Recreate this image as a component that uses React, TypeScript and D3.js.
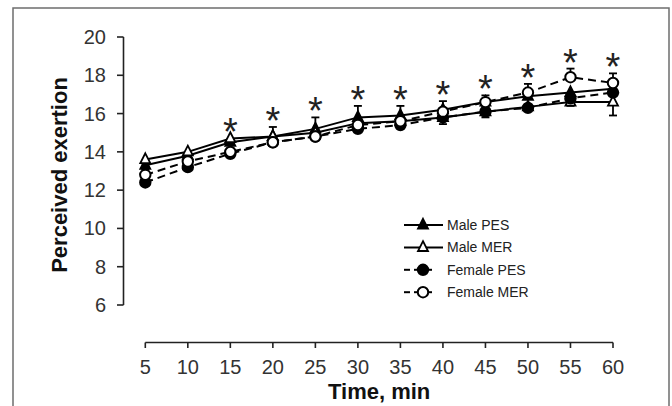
import React from "react";
import * as d3 from "d3";

const times = [5, 10, 15, 20, 25, 30, 35, 40, 45, 50, 55, 60];
const malePES = [13.3, 13.8, 14.5, 14.8, 15.2, 15.8, 15.9, 16.2, 16.6, 16.9, 17.1, 17.3];
const maleMER = [13.6, 14.0, 14.7, 14.8, 15.0, 15.5, 15.6, 15.8, 16.1, 16.35, 16.6, 16.6];
const femalePES = [12.4, 13.2, 13.9, 14.5, 14.8, 15.2, 15.4, 15.8, 16.1, 16.3, 16.8, 17.1];
const femaleMER = [12.8, 13.5, 14.0, 14.5, 14.8, 15.4, 15.6, 16.1, 16.6, 17.1, 17.9, 17.6];
const femaleMERErrUp = [0.3, 0.3, 0.4, 0.8, 1.0, 1.0, 0.8, 0.55, 0.35, 0.45, 0.45, 0.5];
const maleMERErrDown = [0.2, 0.2, 0.2, 0.2, 0.2, 0.3, 0.35, 0.35, 0.3, 0.2, 0.2, 0.7];
const significant = [false, false, true, true, true, true, true, true, true, true, true, true];
const yTicks = [6, 8, 10, 12, 14, 16, 18, 20];
const seriesNames = ["Male PES", "Male MER", "Female PES", "Female MER"];

const FONT = "'Liberation Sans', Arial, Helvetica, sans-serif";

type Series = {
  name: string;
  values: number[];
  marker: "tri" | "circle";
  filled: boolean;
  dashed: boolean;
};

const series: Series[] = [
  { name: seriesNames[0], values: malePES, marker: "tri", filled: true, dashed: false },
  { name: seriesNames[1], values: maleMER, marker: "tri", filled: false, dashed: false },
  { name: seriesNames[2], values: femalePES, marker: "circle", filled: true, dashed: true },
  { name: seriesNames[3], values: femaleMER, marker: "circle", filled: false, dashed: true },
];

const triPath = "M0,-6.2L5,3.6L-5,3.6Z";

function Marker({ s, cx, cy }: { s: Series; cx: number; cy: number }) {
  const fill = s.filled ? "#000" : "#fff";
  if (s.marker === "tri") {
    return <path d={triPath} transform={`translate(${cx},${cy})`} fill={fill} stroke="#000" strokeWidth={1.8} strokeLinejoin="miter" />;
  }
  return <circle cx={cx} cy={cy} r={5.2} fill={fill} stroke="#000" strokeWidth={2} />;
}

export default function App() {
  const W = 672, H = 406;
  const x = d3.scaleLinear().domain([5, 60]).range([145.3, 613]);
  const y = d3.scaleLinear().domain([6, 20]).range([305, 37]);
  const line = d3.line<number>().x((_, i) => x(times[i])).y((v) => y(v));

  const capW = 4;

  return (
    <svg width={W} height={H} style={{ position: "absolute", left: 0, top: 0, background: "#fff" }} fontFamily={FONT}>
      {/* frame */}
      <path d={`M13,${H}V8H669V${H}`} fill="none" stroke="#6e6e6e" strokeWidth={1.5} />

      {/* y axis */}
      <line x1={123.5} x2={123.5} y1={y(20)} y2={y(6)} stroke="#222" strokeWidth={1.6} />
      {yTicks.map((t) => (
        <g key={t}>
          <line x1={117} x2={123.5} y1={y(t)} y2={y(t)} stroke="#222" strokeWidth={1.6} />
          <text x={106} y={y(t) + 7} textAnchor="end" fontSize={20} fill="#333">{t}</text>
        </g>
      ))}
      <text transform={`translate(67,${(y(20) + y(6)) / 2 + 4}) rotate(-90)`} textAnchor="middle" fontSize={22} fontWeight="bold" fill="#111">Perceived exertion</text>

      {/* x axis */}
      <line x1={x(5)} x2={x(60)} y1={342.5} y2={342.5} stroke="#222" strokeWidth={1.6} />
      {times.map((t) => (
        <g key={t}>
          <line x1={x(t)} x2={x(t)} y1={342.5} y2={348} stroke="#222" strokeWidth={1.6} />
          <text x={x(t)} y={374} textAnchor="middle" fontSize={20} fill="#333">{t}</text>
        </g>
      ))}
      <text x={(x(5) + x(60)) / 2} y={399} textAnchor="middle" fontSize={22} fontWeight="bold" fill="#111">Time, min</text>

      {/* error bars */}
      {times.map((t, i) => {
        const cx = x(t);
        const top = y(femaleMER[i] + femaleMERErrUp[i]);
        const bot = y(maleMER[i] - maleMERErrDown[i]);
        return (
          <g key={"e" + t} stroke="#000" strokeWidth={1.8}>
            <line x1={cx} x2={cx} y1={y(femaleMER[i])} y2={top} />
            <line x1={cx - capW} x2={cx + capW} y1={top} y2={top} />
            <line x1={cx} x2={cx} y1={y(maleMER[i])} y2={bot} />
            <line x1={cx - capW} x2={cx + capW} y1={bot} y2={bot} />
          </g>
        );
      })}

      {/* lines */}
      {series.map((s) => (
        <path key={s.name} d={line(s.values) || ""} fill="none" stroke="#000" strokeWidth={2} strokeDasharray={s.dashed ? "8,5" : undefined} />
      ))}

      {/* markers */}
      {series.map((s) => (
        <g key={"m" + s.name}>
          {s.values.map((v, i) => (
            <Marker key={i} s={s} cx={x(times[i])} cy={y(v)} />
          ))}
        </g>
      ))}

      {/* significance stars */}
      {times.map((t, i) => {
        if (!significant[i]) return null;
        const topVal = Math.max(femaleMER[i] + femaleMERErrUp[i], malePES[i], maleMER[i]);
        const cy = y(topVal) - 15;
        return (
          <text key={"s" + t} x={x(t)} y={cy + 22} textAnchor="middle" fontSize={38} fill="#222">*</text>
        );
      })}

      {/* legend */}
      {series.map((s, i) => {
        const ly = 225 + i * 22.4;
        return (
          <g key={"l" + s.name}>
            {s.dashed ? (
              <g stroke="#000" strokeWidth={2}>
                <line x1={404} x2={410} y1={ly} y2={ly} />
                <line x1={414} x2={432} y1={ly} y2={ly} />
              </g>
            ) : (
              <line x1={404} x2={443} y1={ly} y2={ly} stroke="#000" strokeWidth={2} />
            )}
            <Marker s={s} cx={423} cy={ly} />
            <text x={447} y={ly + 5} fontSize={14} fill="#222">{s.name}</text>
          </g>
        );
      })}
    </svg>
  );
}
